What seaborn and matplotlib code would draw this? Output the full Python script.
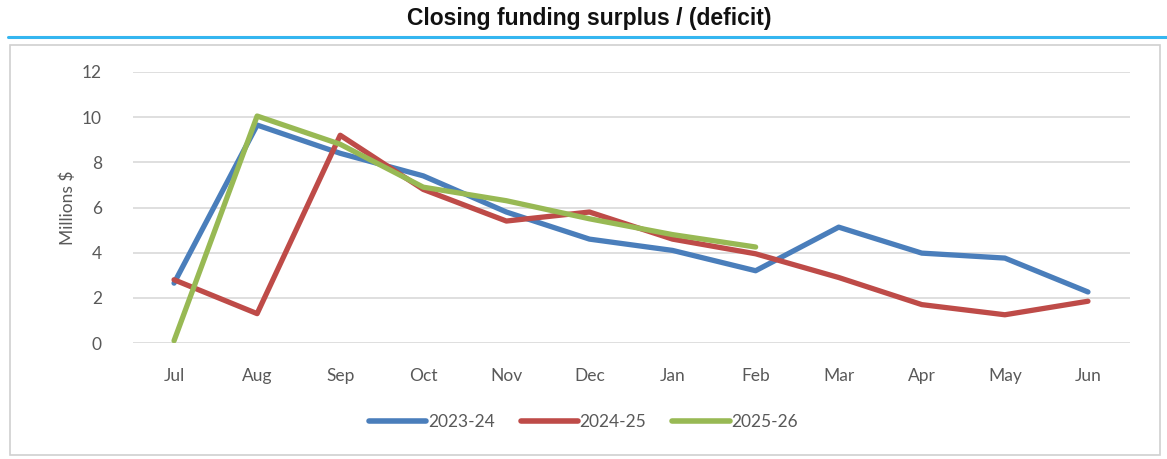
import pandas as pd
import matplotlib
matplotlib.use("Agg")
import matplotlib.pyplot as plt
from matplotlib.lines import Line2D
from matplotlib.patches import Rectangle
import seaborn as sns

months = ["Jul", "Aug", "Sep", "Oct", "Nov", "Dec", "Jan", "Feb", "Mar", "Apr", "May", "Jun"]
fy_2023_24 = [2.65, 9.65, 8.4, 7.4, 5.8, 4.6, 4.1, 3.2, 5.13, 3.98, 3.76, 2.26]
fy_2024_25 = [2.8, 1.3, 9.2, 6.8, 5.4, 5.8, 4.6, 3.95, 2.9, 1.7, 1.25, 1.85]
fy_2025_26 = [0.1, 10.05, 8.8, 6.9, 6.3, 5.5, 4.8, 4.25]

series_names = ["2023-24", "2024-25", "2025-26"]
colors = ["#4A7EBB", "#BE4B48", "#98B954"]

# long form table for seaborn
rows = []
for name, vals in zip(series_names, [fy_2023_24, fy_2024_25, fy_2025_26]):
    for m, v in zip(months, vals):
        rows.append({"Month": m, "Value": v, "Year": name})
df = pd.DataFrame(rows)
df["pos"] = df["Month"].map({m: i for i, m in enumerate(months)})

sns.set_style("white")
plt.rcParams['font.family'] = ['Lato', 'DejaVu Sans']

fig = plt.figure(figsize=(11.67, 4.59), dpi=100)

# chart box and title rule
fig.add_artist(Rectangle((10 / 1167, 4 / 459), 1150 / 1167, 410 / 459, transform=fig.transFigure,
                         facecolor="white", edgecolor="#D0D0D0", linewidth=1.2, zorder=0))
fig.add_artist(Line2D([8 / 1167, 1167 / 1167], [1 - 37 / 459, 1 - 37 / 459], transform=fig.transFigure,
                      color="#35B6F0", linewidth=2.2))
fig.text(0.505, 1 - 19 / 459, "Closing funding surplus / (deficit)", ha="center", va="center",
         fontsize=16.5, fontweight="bold", family=["Liberation Sans Narrow", "Liberation Sans", "DejaVu Sans"],
         color="#111111")

ax = fig.add_axes([132.5 / 1167, 116 / 459, 997 / 1167, 271 / 459])
ax.set_facecolor("none")
sns.lineplot(data=df, x="pos", y="Value", hue="Year", palette=colors, sort=False,
             linewidth=3.8, ax=ax, legend=False, zorder=3)
for ln in ax.get_lines():
    ln.set_solid_capstyle("round")
    ln.set_solid_joinstyle("round")

ax.set_xlim(-0.5, len(months) - 0.5)
ax.set_ylim(0, 12)
ax.set_yticks(range(0, 13, 2))
ax.set_xticks(range(len(months)))
ax.set_xticklabels(months)
ax.grid(axis="y", color="#D9D9D9", linewidth=1.2)
ax.set_axisbelow(True)
for s in ax.spines.values():
    s.set_visible(False)
ax.tick_params(axis="both", length=0, labelsize=12.5, colors="#595959")
ax.tick_params(axis="x", pad=18)
ax.tick_params(axis="y", pad=22)
ax.set_xlabel("")
ax.set_ylabel("Millions $", fontsize=12.5, color="#595959", labelpad=4)

handles = [Line2D([0], [0], color=c, linewidth=4, solid_capstyle="round") for c in colors]
fig.legend(handles, series_names, loc="center", bbox_to_anchor=(0.5, 1 - 422 / 459), ncol=3,
           frameon=False, fontsize=12.5, labelcolor="#595959", handlelength=3.3, handletextpad=0.1,
           columnspacing=1.5)

fig.savefig("out.png", dpi=100)
